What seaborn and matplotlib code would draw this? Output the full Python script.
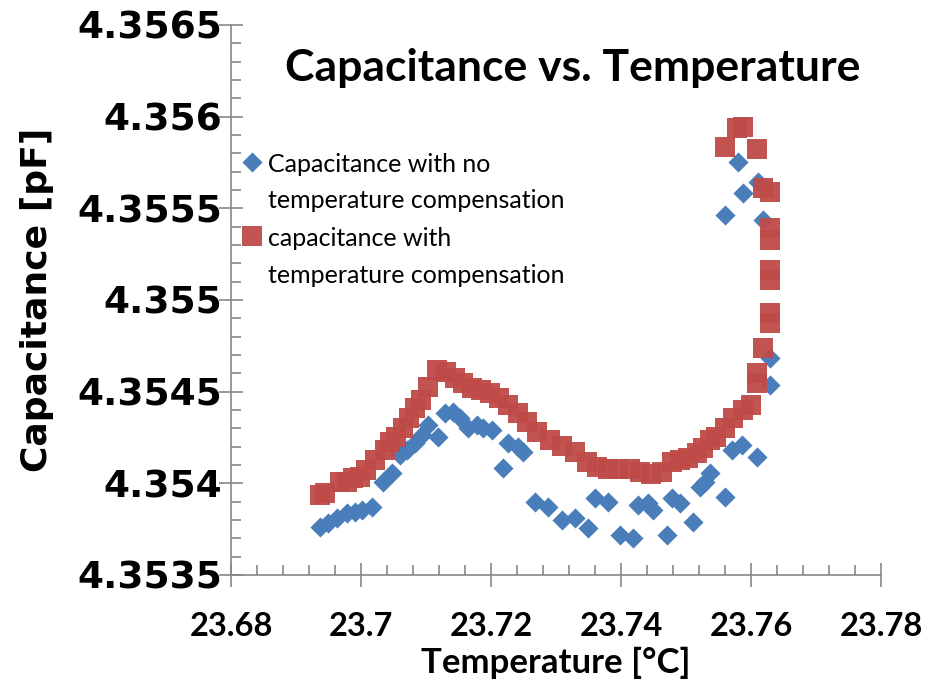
import numpy as np
import pandas as pd
import seaborn as sb
import matplotlib.pyplot as plt
from matplotlib.collections import PathCollection
from matplotlib.legend_handler import HandlerPathCollection
from matplotlib.ticker import MultipleLocator, FuncFormatter

# temperature [C] and capacitance [pF]
temp_nocomp = [23.6937, 23.6949, 23.6963, 23.6978, 23.6991, 23.7002, 23.7017, 23.7034,
               23.7048, 23.7060, 23.7071, 23.7083, 23.7094, 23.7103, 23.7118, 23.7129,
               23.7142, 23.7152, 23.7165, 23.7178, 23.7188, 23.7202, 23.7218, 23.7226,
               23.7242, 23.7249, 23.7268, 23.7288, 23.7309, 23.7329, 23.7349, 23.7360,
               23.7380, 23.7398, 23.7418, 23.7426, 23.7442, 23.7449, 23.7471, 23.7478,
               23.7491, 23.7511, 23.7522, 23.7529, 23.7537, 23.7560, 23.7571, 23.7586,
               23.7609, 23.7629, 23.7629, 23.7618, 23.7611, 23.7588, 23.7580, 23.7560]
cap_nocomp = [4.353762, 4.353784, 4.353811, 4.353838, 4.353844, 4.353855, 4.353871, 4.354007,
              4.354056, 4.354155, 4.354182, 4.354220, 4.354264, 4.354318, 4.354253, 4.354384,
              4.354389, 4.354356, 4.354302, 4.354318, 4.354302, 4.354291, 4.354084, 4.354220,
              4.354198, 4.354171, 4.353898, 4.353871, 4.353800, 4.353811, 4.353756, 4.353920,
              4.353898, 4.353718, 4.353702, 4.353882, 4.353893, 4.353855, 4.353718, 4.353920,
              4.353893, 4.353789, 4.353980, 4.354007, 4.354056, 4.353925, 4.354182, 4.354209,
              4.354144, 4.354536, 4.354684, 4.355436, 4.355644, 4.355584, 4.355753, 4.355464]

temp_comp = [23.6937, 23.6945, 23.6968, 23.6978, 23.6988, 23.6998, 23.7008, 23.7022,
             23.7037, 23.7045, 23.7054, 23.7065, 23.7074, 23.7083, 23.7092, 23.7103,
             23.7117, 23.7131, 23.7145, 23.7157, 23.7171, 23.7185, 23.7198, 23.7212,
             23.7226, 23.7242, 23.7255, 23.7271, 23.7291, 23.7309, 23.7329, 23.7348,
             23.7363, 23.7380, 23.7395, 23.7414, 23.7429, 23.7446, 23.7463, 23.7478,
             23.7491, 23.7503, 23.7517, 23.7526, 23.7537, 23.7546, 23.7560, 23.7572,
             23.7588, 23.7600, 23.7609, 23.7609, 23.7618, 23.7629, 23.7629, 23.7629,
             23.7629, 23.7629, 23.7629, 23.7629, 23.7618, 23.7609, 23.7588, 23.7578, 23.7560]
cap_comp = [4.353936, 4.353947, 4.354007, 4.354007, 4.354029, 4.354035, 4.354073, 4.354127,
            4.354182, 4.354225, 4.354253, 4.354302, 4.354356, 4.354411, 4.354455, 4.354525,
            4.354618, 4.354607, 4.354575, 4.354547, 4.354520, 4.354509, 4.354493, 4.354465,
            4.354427, 4.354384, 4.354335, 4.354280, 4.354236, 4.354204, 4.354171, 4.354116,
            4.354089, 4.354078, 4.354078, 4.354078, 4.354062, 4.354051, 4.354062, 4.354116,
            4.354127, 4.354138, 4.354165, 4.354193, 4.354236, 4.354253, 4.354302, 4.354356,
            4.354400, 4.354427, 4.354547, 4.354602, 4.354738, 4.354875, 4.354929, 4.355109,
            4.355164, 4.355327, 4.355393, 4.355589, 4.355611, 4.355824, 4.355944, 4.355938, 4.355835]

label_nocomp = "Capacitance with no\ntemperature compensation"
label_comp = "capacitance with\ntemperature compensation"

blue = "#4A7EBB"
red = "#BE4B48"
grey = "#878787"

sb.set_style("white")
plt.rcParams["text.color"] = "black"
plt.rcParams["xtick.labelcolor"] = "black"
plt.rcParams["ytick.labelcolor"] = "black"
plt.rcParams["axes.labelcolor"] = "black"

df1 = pd.DataFrame({"T": temp_nocomp, "C": cap_nocomp})
df2 = pd.DataFrame({"T": temp_comp, "C": cap_comp})

fig = plt.figure(figsize=(9.29, 6.81), dpi=100)
ax = fig.add_axes([0.2487, 0.1557, 0.6997, 0.8076])

sb.scatterplot(data=df1, x="T", y="C", marker="D", s=105, color=blue,
               edgecolor=blue, linewidth=0, ax=ax, label=label_nocomp, zorder=2)
sb.scatterplot(data=df2, x="T", y="C", marker="s", s=205, color=red,
               edgecolor=red, linewidth=0, alpha=0.95, ax=ax, label=label_comp, zorder=3)

ax.set_xlim(23.68, 23.78)
ax.set_ylim(4.3535, 4.3565)
ax.xaxis.set_major_locator(MultipleLocator(0.02))
ax.xaxis.set_minor_locator(MultipleLocator(0.004))
ax.yaxis.set_major_locator(MultipleLocator(0.0005))
ax.yaxis.set_minor_locator(MultipleLocator(0.0001))
fmt = FuncFormatter(lambda v, p: "%g" % round(v, 6))
ax.xaxis.set_major_formatter(fmt)
ax.yaxis.set_major_formatter(fmt)

for s in ["top", "right"]:
    ax.spines[s].set_visible(False)
for s in ["left", "bottom"]:
    ax.spines[s].set_color(grey)
    ax.spines[s].set_linewidth(1.2)

ax.tick_params(which="major", direction="inout", length=17, width=1.2, color=grey)
ax.tick_params(which="minor", direction="in", length=7.5, width=1.2, color=grey)
ax.tick_params(axis="x", which="minor", bottom=True)
ax.tick_params(axis="y", which="minor", left=True)
ax.tick_params(axis="y", which="major", pad=-2, left=True)
ax.tick_params(axis="x", which="major", pad=18, bottom=True)

for t in ax.get_yticklabels():
    t.set_fontfamily("DejaVu Sans")
    t.set_fontweight("bold")
    t.set_fontsize(27)
for t in ax.get_xticklabels():
    t.set_fontfamily("Lato")
    t.set_fontweight("bold")
    t.set_fontsize(23.5)

ax.set_ylabel("Capacitance [pF]", fontsize=26, fontweight="bold", family="DejaVu Sans", labelpad=17)
ax.set_xlabel("Temperature [°C]", fontsize=25, fontweight="bold", family="Lato", labelpad=4)

fig.text(0.616, 0.900, "Capacitance vs. Temperature", fontsize=32, fontweight="bold",
         family="Lato", ha="center", va="center")

leg = ax.legend(loc="upper left", bbox_to_anchor=(0.247, 0.79), bbox_transform=fig.transFigure,
                frameon=False, prop={"family": "Lato", "size": 18}, handletextpad=0.15,
                labelspacing=0.6, borderaxespad=0, handlelength=1.0,
                handler_map={PathCollection: HandlerPathCollection(yoffsets=[1.75])})
for t in leg.get_texts():
    t.set_linespacing(1.7)

fig.savefig("out.png", dpi=100)
